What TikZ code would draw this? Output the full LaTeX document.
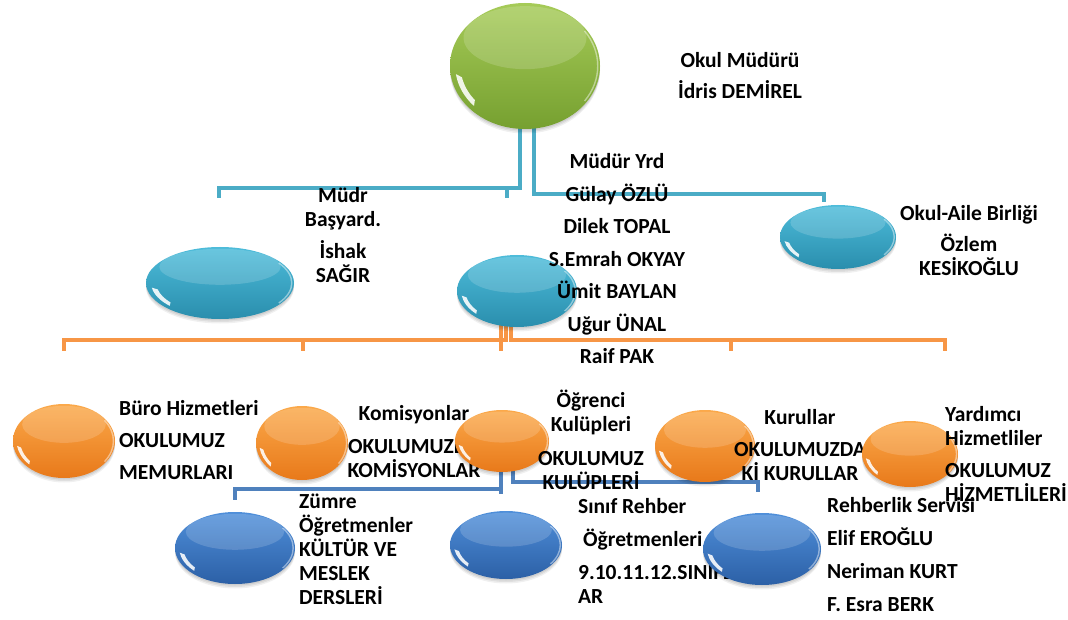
\documentclass[tikz,border=0pt]{standalone}
\usepackage{fontspec}
\setmainfont{Carlito}
\usetikzlibrary{shapes.geometric,calc}
\pgfdeclarelayer{bg}
\pgfsetlayers{bg,main}
\definecolor{lineaqua}{HTML}{4BACC6}
\definecolor{lineorange}{HTML}{F79646}
\definecolor{lineblue}{HTML}{4F81BD}
\definecolor{greenT}{HTML}{A6CB58}
\definecolor{greenB}{HTML}{76A030}
\definecolor{cyanT}{HTML}{4DBCDA}
\definecolor{cyanB}{HTML}{2A8EAD}
\definecolor{orangeT}{HTML}{FBA94A}
\definecolor{orangeB}{HTML}{E8791A}
\definecolor{blueT}{HTML}{4F8FDA}
\definecolor{blueB}{HTML}{2C60A6}
\tikzset{
  orb/.style n args={4}{ellipse, minimum width=#3pt, minimum height=#4pt, inner sep=0pt,
    top color=#1, bottom color=#2, draw=none,
    preaction={fill=black, fill opacity=0.07, transform canvas={yshift=-1.5pt}},
    preaction={fill=black, fill opacity=0.07, transform canvas={yshift=-3pt}},
    preaction={fill=black, fill opacity=0.06, transform canvas={yshift=-4.5pt}},
    path picture={
      \fill[white, opacity=0.16] ($(path picture bounding box.center)+(0,{-0.45*#4/2})$) ellipse ({0.82*#3/2} and {0.5*#4/2});
      \draw[white, opacity=0.45, line width=1.4pt]
        ($(path picture bounding box.center)+({0.97*#3/2*cos(-35)},{0.97*#4/2*sin(-35)})$)
        arc (-35:35:{0.97*#3/2} and {0.97*#4/2});
      \fill[white, opacity=0.88]
        ($(path picture bounding box.center)+({0.93*#3/2*cos(172)},{0.93*#4/2*sin(172)})$)
        arc (172:137:{0.93*#3/2} and {0.93*#4/2})
        -- ($(path picture bounding box.center)+({0.86*#3/2*cos(141)},{0.86*#4/2*sin(141)})$)
        arc (141:168:{0.86*#3/2} and {0.86*#4/2}) -- cycle;
    }},
  conn/.style={line width=4.5pt, draw=#1},
  txt/.style={font=\fontsize{21.5}{24}\selectfont\bfseries, inner sep=0pt, text width=#1pt},
  tl/.style={txt=#1, align=flush left, anchor=base west},
  tc/.style={txt=#1, align=flush center, anchor=base},
}
\begin{document}
\begin{tikzpicture}[x=1pt, y=-1pt]
\useasboundingbox (0,0) rectangle (1068,620);
\begin{pgfonlayer}{bg}
\fill[white] (0,0) rectangle (1068,620);
\end{pgfonlayer}

% ---- root
\node[orb={greenT}{greenB}{150}{126}] (root) at (525,66) {};
\node[tc=220] (troot) at (740,68) {Okul Müdürü\\[7pt]İdris DEMİREL};

% ---- second level
\node[orb={cyanT}{cyanB}{148}{72}] (cl) at (220,283) {};
\node[tc=130] (tcl) at (343,203) {Müdr\\Başyard.\\[8pt]İshak\\SAĞIR};
\node[orb={cyanT}{cyanB}{120}{72}] (cm) at (517,291) {};
\node[tc=200] (tcm) at (617,169) {Müdür Yrd\\[8.5pt]Gülay ÖZLÜ\\[8.5pt]Dilek TOPAL\\[8.5pt]S.Emrah OKYAY\\[8.5pt]Ümit BAYLAN\\[8.5pt]Uğur ÜNAL\\[8.5pt]Raif PAK};
\node[orb={cyanT}{cyanB}{116}{64}] (cr) at (838,237) {};
\node[tc=180] (tcr) at (969,221) {Okul-Aile Birliği\\[7pt]Özlem\\KESİKOĞLU};

% ---- orange level
\node[orb={orangeT}{orangeB}{102}{74}] (r1) at (64,441) {};
\node[tl=170] (tr1) at (119,415) {Büro Hizmetleri\\[8pt]OKULUMUZ\\[8pt]MEMURLARI};
\node[orb={orangeT}{orangeB}{92}{74}] (r2) at (302,443) {};
\node[tc=160] (tr2) at (414,420) {Komisyonlar\\[9pt]OKULUMUZDA\\KOMİSYONLAR};
\node[orb={orangeT}{orangeB}{94}{62}] (r3) at (502,441) {};
\node[tc=140] (tr3) at (591,407) {Öğrenci\\Kulüpleri\\[10pt]OKULUMUZ\\KULÜPLERİ};
\node[orb={orangeT}{orangeB}{100}{72}] (r4) at (705,446) {};
\node[tc=160] (tr4) at (800,424) {Kurullar\\[8pt]OKULUMUZDA\\Kİ KURULLAR};
\node[orb={orangeT}{orangeB}{96}{66}] (r5) at (910,454) {};
\node[tl=130] (tr5) at (945,421) {Yardımcı\\Hizmetliler\\[8pt]OKULUMUZ\\HİZMETLİLERİ};

% ---- blue level
\node[orb={blueT}{blueB}{120}{72}] (u1) at (235,548) {};
\node[tl=160] (tu1) at (299,508) {Zümre\\Öğretmenler\\KÜLTÜR VE\\MESLEK\\DERSLERİ};
\node[orb={blueT}{blueB}{112}{68}] (u2) at (506,545) {};
\node[tl=170] (tu2) at (578,513) {Sınıf Rehber\\[9pt]\hspace*{5pt}Öğretmenleri\\[9pt]9.10.11.12.SINIFL\\AR};
\node[orb={blueT}{blueB}{118}{72}] (u3) at (762,549) {};
\node[tl=200] (tu3) at (827,512) {Rehberlik Servisi\\[9pt]Elif EROĞLU\\[9pt]Neriman KURT\\[9pt]F. Esra BERK};

% ---- connectors (behind the shapes)
\begin{pgfonlayer}{bg}
\coordinate (ta) at (520,188);
\coordinate (tb) at (534,194);
\coordinate (t1) at (219,198);
\coordinate (t2) at (507,198);
\coordinate (t3) at (824,202);
\draw[conn=lineaqua] (root.center -| ta) -- (ta) -| (t1);
\draw[conn=lineaqua] (ta) -| (t2);
\draw[conn=lineaqua] (root.center -| tb) -- (tb) -| (t3);

\coordinate (oa) at (506,340);
\coordinate (ob) at (511,340);
\coordinate (o1) at (64,351);
\coordinate (o2) at (303,351);
\coordinate (o3) at (501,351);
\coordinate (o4) at (731,351);
\coordinate (o5) at (945,351);
\draw[conn=lineorange] (cm.center -| oa) -- (oa) -| (o1);
\draw[conn=lineorange] (oa) -| (o2);
\draw[conn=lineorange] (cm.center -| o3) -- (o3);
\draw[conn=lineorange] (cm.center -| ob) -- (ob) -| (o4);
\draw[conn=lineorange] (ob) -| (o5);

\coordinate (ba) at (501,489);
\coordinate (bb) at (513,482);
\coordinate (b1) at (235,500);
\coordinate (b2) at (501,494);
\coordinate (b3) at (758,492);
\draw[conn=lineblue] (r3.center -| ba) -- (ba) -| (b1);
\draw[conn=lineblue] (ba) -- (b2);
\draw[conn=lineblue] (r3.center -| bb) -- (bb) -| (b3);
\end{pgfonlayer}
\end{tikzpicture}
\end{document}
